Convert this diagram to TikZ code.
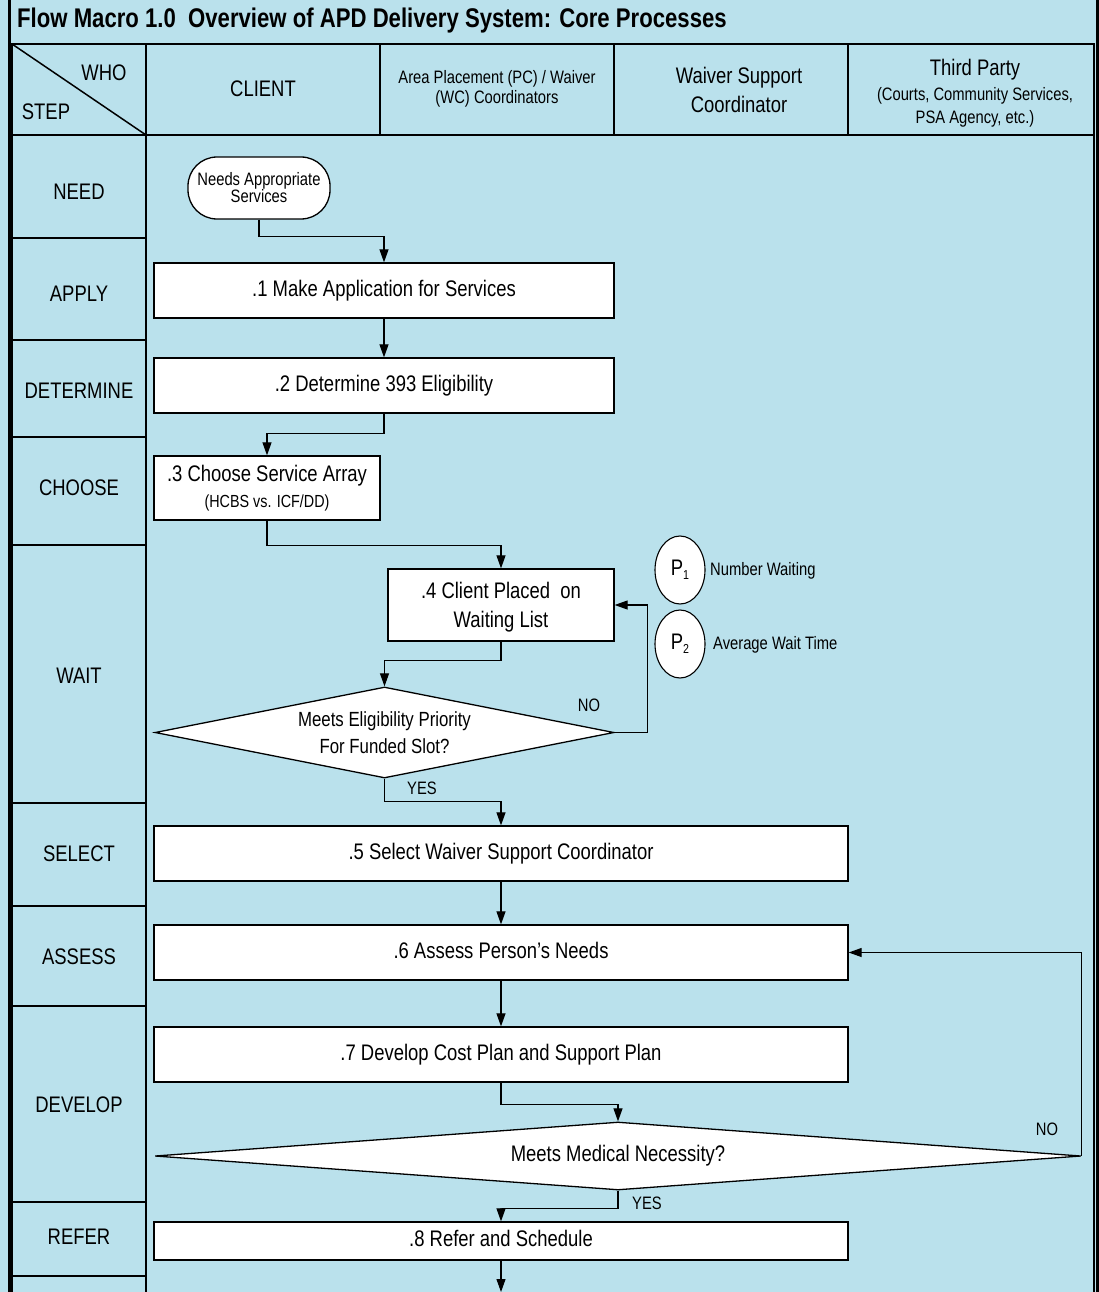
\documentclass[tikz,border=0pt]{standalone}
\usepackage{fontspec}
\setmainfont{Liberation Sans}[FakeStretch=0.82]
\usetikzlibrary{arrows.meta,shapes.geometric,calc}
\definecolor{lane}{RGB}{186,225,236}

\begin{document}
\begin{tikzpicture}[x=1pt,y=-1pt,
  big/.style={font=\fontsize{22.5}{29.5}\selectfont},
  small/.style={font=\fontsize{18}{20}\selectfont},
  proc/.style={draw, fill=white, line width=1.3pt, inner sep=0pt, big, align=center},
  decision/.style={draw, fill=white, diamond, line width=1.3pt, inner sep=0pt, align=center},
  lbl/.style={inner sep=0pt, align=center},
  arr/.style={line width=1.1pt, -{Triangle[length=13pt,width=9pt]}},
  conn/.style={line width=1.1pt},
  grid/.style={line width=1.5pt},
]
\useasboundingbox (0,0) rectangle (1099,1292);
\fill[lane] (0,0) rectangle (1099,1292);

% outer frame
\draw[line width=3pt] (9,0) -- (9,1292);
\draw[line width=3pt] (1097,0) -- (1097,1292);

% title
\node[lbl, anchor=west, font=\fontsize{27}{30}\selectfont\bfseries] (title) at (17,21)
  {Flow Macro 1.0\ \ Overview of APD Delivery System: Core Processes};

% header row
\draw[grid] (12,44) rectangle (1094,135);
\foreach \x in {146,380,614,848} \draw[grid] (\x,44) -- (\x,135);
\draw[grid] (12,44) -- (146,135);
\draw[grid] (12,44) -- (12,1292);
\draw[grid] (1094,44) -- (1094,1292);
\draw[grid] (146,135) -- (146,1292);
\foreach \y in {238,340,437,545,803,906,1006,1202,1276} \draw[grid] (12,\y) -- (146,\y);

\node[lbl, big] (who) at (104,73) {WHO};
\node[lbl, big] (stp) at (46,112) {STEP};
\node[lbl, big] (hclient) at (263,89) {CLIENT};
\node[lbl, small] (harea) at (497,89) {Area Placement (PC) / Waiver\\(WC) Coordinators};
\node[lbl, big] (hwsc) at (739,90) {Waiver Support\\Coordinator};
\node[lbl, align=center] (hthird) at (975,93)
  {{\fontsize{22.5}{26}\selectfont Third Party}\\[6pt]
   {\fontsize{18}{24}\selectfont (Courts, Community Services,}\\[5pt]
   {\fontsize{18}{24}\selectfont PSA Agency, etc.)}};

% step labels
\foreach \y/\t/\n in {192/NEED/sneed, 294/APPLY/sapply, 391/DETERMINE/sdet, 488/CHOOSE/schoose,
  676/WAIT/swait, 854/SELECT/ssel, 957/ASSESS/sass, 1105/DEVELOP/sdev, 1237/REFER/sref}
  \node[lbl, big] (\n) at (79,\y) {\t};

% process flow
\node[draw, fill=white, line width=1.3pt, rounded corners=29pt, minimum width=142pt,
  minimum height=62pt, inner sep=0pt, align=center, font=\fontsize{18}{17}\selectfont]
  (start) at (259,188) {Needs Appropriate\\Services};
\node[proc, minimum width=460pt, minimum height=55pt] (b1) at (384,290.5) {\strut.1 Make Application for Services};
\node[proc, minimum width=460pt, minimum height=55pt] (b2) at (384,385.5) {\strut.2 Determine 393 Eligibility};
\node[proc, minimum width=226pt, minimum height=64pt] (b3) at (267,488)
  {.3 Choose Service Array\\[-3pt]{\fontsize{17.5}{20}\selectfont (HCBS vs. ICF/DD)}};
\node[proc, minimum width=226pt, minimum height=72pt] (b4) at (501,605) {\strut.4 Client Placed\ \ on\\Waiting List};
\node[decision, aspect=5, minimum width=459pt, minimum height=91pt,
  font=\fontsize{20.5}{27}\selectfont] (d1) at (384.5,732.5) {Meets Eligibility Priority\\For Funded Slot?};
\node[proc, minimum width=694pt, minimum height=55pt] (b5) at (501,853.5) {\strut.5 Select Waiver Support Coordinator};
\node[proc, minimum width=694pt, minimum height=55pt] (b6) at (501,952.5) {\strut.6 Assess Person's Needs};
\node[proc, minimum width=694pt, minimum height=55pt] (b7) at (501,1054.5) {\strut.7 Develop Cost Plan and Support Plan};
\node[decision, aspect=13, minimum width=926pt, minimum height=68pt, big] (d2) at (618,1156) {\strut Meets Medical Necessity?};
\node[proc, minimum width=694pt, minimum height=38pt] (b8) at (501,1241) {\strut.8 Refer and Schedule};
\coordinate (next) at (501,1292);

% performance measures
\node[draw, fill=white, ellipse, line width=1.1pt, minimum width=50pt, minimum height=68pt, inner sep=0pt,
  big] (p1) at (680,570) {P\raisebox{-4pt}{\fontsize{13}{13}\selectfont 1}};
\node[draw, fill=white, ellipse, line width=1.1pt, minimum width=50pt, minimum height=68pt, inner sep=0pt,
  big] (p2) at (680,644) {P\raisebox{-4pt}{\fontsize{13}{13}\selectfont 2}};
\node[lbl, small, anchor=west] (p1t) at (710,571) {Number Waiting};
\node[lbl, small, anchor=west] (p2t) at (713,645) {Average Wait Time};

% connectors
\draw[arr] (start.south) -- ++(0,17) -| (b1.north);
\draw[arr] (b1.south) -- (b2.north);
\draw[arr] (b2.south) -- ++(0,20) -| (b3.north);
\draw[arr] (b3.south) -- ++(0,25) -| (b4.north);
\draw[arr] (b4.south) -- ++(0,19) -| (d1.north);
\draw[arr] (d1.east) -- ++(33,0) |- (b4.east);
\draw[arr] (d1.south) -- ++(0,23) -| (b5.north);
\draw[arr] (b5.south) -- (b6.north);
\draw[arr] (b6.south) -- (b7.north);
\draw[arr] (b7.south) -- ++(0,22) -| (d2.north);
\draw[arr] (d2.east) |- (b6.east);
\draw[arr] (d2.south) -- ++(0,18) -| (b8.north);
\draw[arr] (b8.south) -- (next);

% branch labels
\node[lbl, small] (no1) at (589,705) {NO};
\node[lbl, small] (yes1) at (422,788) {YES};
\node[lbl, small] (no2) at (1047,1129) {NO};
\node[lbl, small] (yes2) at (647,1203) {YES};
\end{tikzpicture}
\end{document}
